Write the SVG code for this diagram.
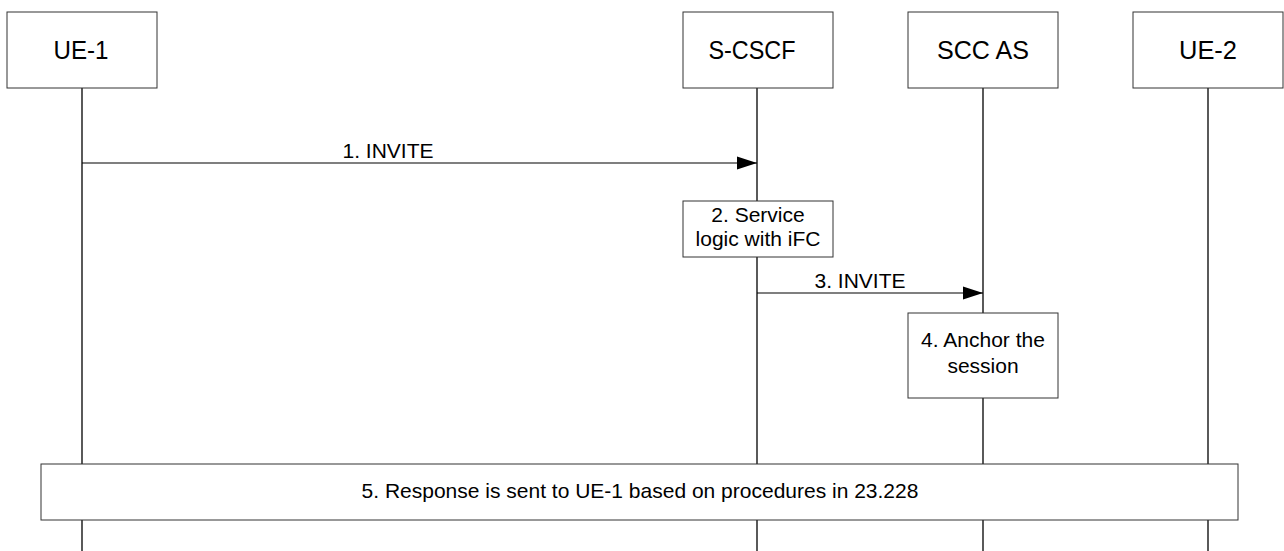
<svg xmlns="http://www.w3.org/2000/svg" width="1284" height="551" viewBox="0 0 1284 551">
<style>
.box{fill:#fff;stroke:#333;stroke-width:1}
.life{stroke:#000;stroke-width:1.3;fill:none}
.msg{stroke:#000;stroke-width:1.2;fill:none}
.head{font-family:"Liberation Sans",Arial,sans-serif;font-size:25px;fill:#000;text-anchor:middle}
.lbl{font-family:"Liberation Sans",Arial,sans-serif;font-size:21px;fill:#000;text-anchor:middle}
</style>
<defs>
<marker id="arr" markerUnits="userSpaceOnUse" markerWidth="20" markerHeight="14" refX="20" refY="7" orient="auto">
<path d="M0,0.5 L20,7 L0,13.5 Z" fill="#000"/>
</marker>
</defs>
<rect width="1284" height="551" fill="#fff"/>
<g id="lifelines">
<line class="life" x1="82" y1="88" x2="82" y2="551"/>
<line class="life" x1="757" y1="88" x2="757" y2="551"/>
<line class="life" x1="983" y1="88" x2="983" y2="551"/>
<line class="life" x1="1208" y1="88" x2="1208" y2="551"/>
</g>
<g id="ue1"><rect class="box" x="7" y="12" width="150" height="76"/><text class="head" x="81" y="59" textLength="55" lengthAdjust="spacingAndGlyphs">UE-1</text></g>
<g id="scscf"><rect class="box" x="683" y="12" width="150" height="76"/><text class="head" x="752" y="59" textLength="87" lengthAdjust="spacingAndGlyphs">S-CSCF</text></g>
<g id="sccas"><rect class="box" x="908" y="12" width="150" height="76"/><text class="head" x="983" y="59" textLength="92" lengthAdjust="spacingAndGlyphs">SCC AS</text></g>
<g id="ue2"><rect class="box" x="1133" y="12" width="150" height="76"/><text class="head" x="1208" y="59" textLength="58" lengthAdjust="spacingAndGlyphs">UE-2</text></g>
<g id="connectors">
<line class="msg" x1="82" y1="163" x2="757" y2="163" marker-end="url(#arr)"/>
<text class="lbl" x="388" y="158">1. INVITE</text>
<line class="msg" x1="757" y1="293" x2="983" y2="293" marker-end="url(#arr)"/>
<text class="lbl" x="860" y="288">3. INVITE</text>
</g>
<g id="step2"><rect class="box" x="683" y="201" width="150" height="56"/>
<text class="lbl" x="758" y="222">2. Service</text><text class="lbl" x="758" y="246">logic with iFC</text></g>
<g id="step4"><rect class="box" x="908" y="313" width="150" height="85"/>
<text class="lbl" x="983" y="347">4. Anchor the</text><text class="lbl" x="983" y="373">session</text></g>
<g id="step5"><rect class="box" x="41" y="464" width="1197" height="56"/>
<text class="lbl" x="640" y="498">5. Response is sent to UE-1 based on procedures in 23.228</text></g>
</svg>
